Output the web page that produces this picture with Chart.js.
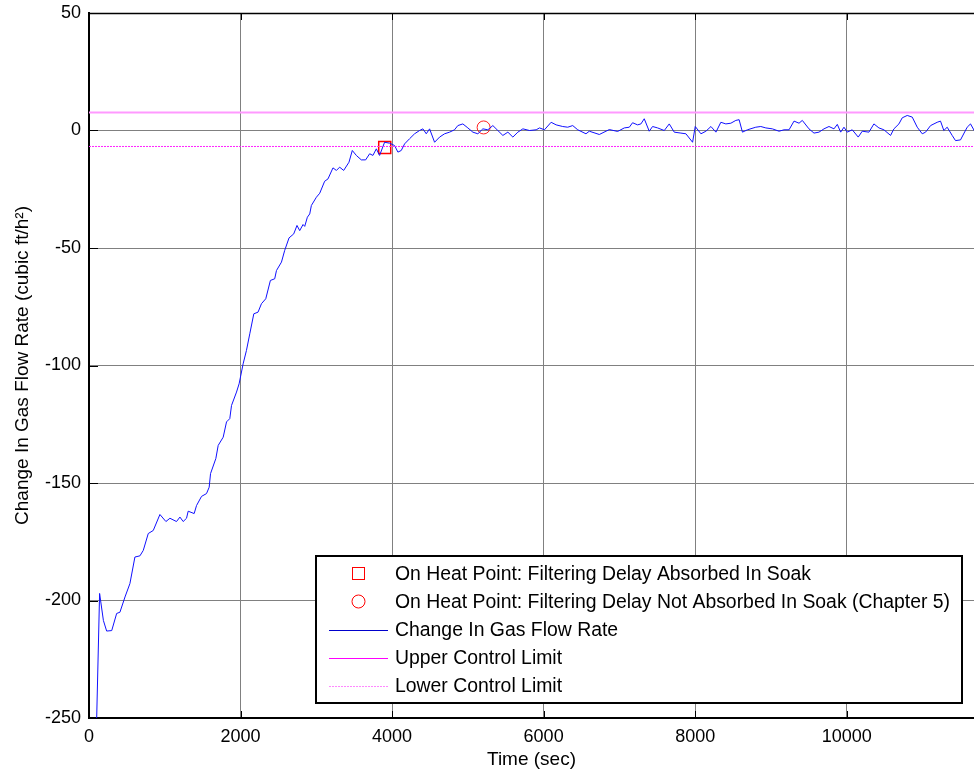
<!DOCTYPE html>
<html>
  <head>
    <title>Change In Gas Flow Rate</title>
    <script src="https://cdn.jsdelivr.net/npm/chart.js@4/dist/chart.umd.min.js"></script>
    <style>
      html, body { margin: 0; padding: 0; background: #fff; overflow: hidden; }
      canvas { display: block; }
    </style>
  </head>
  <body>
    <!-- a bit wider than the window: Chart.js keeps ~10px right padding, the axes run off the edge like the reference -->
    <canvas id="canvas" width="984" height="774"></canvas>
    <script>
      // values
      var timeSec = [100, 140, 190, 233, 300, 365, 408, 475, 540, 606, 672, 716, 782, 848, 936, 1015, 1068, 1155, 1200, 1243,
        1287, 1309, 1388, 1419, 1485, 1551, 1586, 1604, 1674, 1705, 1771, 1815, 1858, 1881, 1947, 1981, 2034, 2078, 2122, 2175,
        2231, 2276, 2333, 2394, 2451, 2474, 2540, 2583, 2640, 2702, 2745, 2781, 2825, 2847, 2882, 2913, 2935, 3001, 3045, 3110,
        3154, 3220, 3265, 3308, 3361, 3431, 3475, 3528, 3594, 3651, 3704, 3747, 3792, 3835, 3901, 3967, 4033, 4077, 4121, 4165,
        4231, 4297, 4363, 4407, 4451, 4495, 4561, 4627, 4693, 4759, 4824, 4868, 4934, 5000, 5066, 5132, 5198, 5264, 5330, 5396,
        5462, 5528, 5594, 5660, 5726, 5814, 5902, 5946, 6011, 6099, 6165, 6252, 6318, 6384, 6450, 6559, 6603, 6735, 6867, 6977,
        7065, 7131, 7174, 7240, 7284, 7328, 7394, 7438, 7504, 7592, 7658, 7724, 7812, 7878, 7966, 8001, 8076, 8142, 8208, 8274,
        8339, 8405, 8471, 8537, 8580, 8624, 8690, 8800, 8866, 8932, 9019, 9107, 9173, 9239, 9305, 9371, 9414, 9502, 9568, 9634,
        9700, 9766, 9832, 9876, 9920, 9964, 10007, 10073, 10152, 10205, 10293, 10359, 10425, 10491, 10579, 10623, 10689, 10733, 10799, 10865,
        10931, 10997, 11041, 11107, 11194, 11238, 11282, 11326, 11392, 11436, 11502, 11590, 11634, 11700];
      var gasFlowChange = [-252, -197, -208.5, -213, -212.8, -205.5, -205, -198.5, -192.8, -181.5, -181, -178.7, -171.5, -170.2, -163.4, -166.4, -165, -166.4, -164.5, -166.4,
        -165, -162, -163, -159.6, -155.7, -154.5, -151.8, -146, -139.6, -134, -130.5, -124, -122.6, -117, -111.3, -107.8, -99.3, -93.6, -86.5, -78,
        -77.3, -73.7, -71.6, -63.8, -63.1, -59.6, -56, -51, -45.7, -44, -40.4, -42.6, -40, -40.8, -36.9, -35.5, -31.9, -28.4, -26.7, -21.6,
        -20.6, -15.9, -17, -15.6, -17, -13.5, -8.5, -10.6, -12.5, -12.5, -9.9, -10.6, -7.8, -10.6, -5, -5.4, -6.4, -9.2, -8.5, -5.7,
        -3.5, -1.4, 0, 0.7, -1.4, 0.7, -5, -2.8, -1.4, -0.7, 0.3, 2.1, 2.8, 1.1, -0.7, -1.4, 0.7, 0.3, 2.1, 0,
        -2.1, -0.7, -2.8, -0.7, 0.7, 0, 0.3, 1.1, 0.3, 3.5, 2.4, 1.7, 1.4, 2.1, 0.3, -1.4, -0.3, -1.7, 0.4, -0.4,
        1.1, 1.4, 3.3, 2.4, 2.8, 5, -0.3, 1.7, 1.1, 0, 2.8, -0.7, -1.1, -1.4, -5, 1.7, -1.4, -0.3, 1.7, -0.7,
        3.5, 2.8, 3.1, 4.3, 4.6, -0.7, 0.3, 1.4, 1.7, 1.1, 0.7, -0.3, 0.3, 0.3, 4, 3.1, 4.3, 0.7, -1.1, -0.7,
        0.7, 1.7, 0.7, 2.6, -0.7, 1.4, -0.7, 0.3, -2.8, -0.3, -0.7, 2.8, 1.1, 0.3, -2.1, 0.7, 2.8, 5.4, 6.4, 5.7,
        1.4, -1.4, -0.7, 2.1, 3.5, 4, 0, 1.4, -2.1, -4.3, -4, 1.4, 2.8, -1];
      var absorbedPoint = [3903, -7.2];
      var notAbsorbedPoint = [5208, 1.3];
      var upperLimit = 7.7;
      var lowerLimit = -6.8;
      var xRange = [0, 11680];
      var yRange = [-250, 50];
      var xTicks = [0, 2000, 4000, 6000, 8000, 10000];
      var yTicks = [-250, -200, -150, -100, -50, 0, 50];
      var legendLabels = [
        "On Heat Point: Filtering Delay Absorbed In Soak",
        "On Heat Point: Filtering Delay Not Absorbed In Soak (Chapter 5)",
        "Change In Gas Flow Rate",
        "Upper Control Limit",
        "Lower Control Limit"
      ];

      var FONT = "'Liberation Sans', Arial, sans-serif";

      var flowPoints = timeSec.map(function(t, i) { return { x: t, y: gasFlowChange[i] }; });

      // MATLAB style frame: top edge and inward ticks
      var framePlugin = {
        id: 'frame',
        afterDatasetsDraw: function(chart) {
          var ctx = chart.ctx, a = chart.chartArea;
          var xs = chart.scales.x, ys = chart.scales.y;
          ctx.save();
          ctx.strokeStyle = '#000';
          ctx.lineWidth = 1.5;
          ctx.beginPath();
          ctx.moveTo(a.left, a.top + 0.5);
          ctx.lineTo(a.right, a.top + 0.5);
          ctx.stroke();
          ctx.lineWidth = 1;
          ctx.beginPath();
          xTicks.forEach(function(v) {
            var px = Math.round(xs.getPixelForValue(v)) + 0.5;
            ctx.moveTo(px, a.bottom); ctx.lineTo(px, a.bottom - 7);
            ctx.moveTo(px, a.top); ctx.lineTo(px, a.top + 7);
          });
          yTicks.forEach(function(v) {
            var py = Math.round(ys.getPixelForValue(v)) + 0.5;
            ctx.moveTo(a.left, py); ctx.lineTo(a.left + 9, py);
          });
          ctx.stroke();
          ctx.restore();
        }
      };

      // boxed legend inside the axes
      var boxLegendPlugin = {
        id: 'boxLegend',
        afterDraw: function(chart) {
          var ctx = chart.ctx;
          var box = { x: 316, y: 556, w: 646, h: 147 };
          var rowY = [574, 602, 630, 658, 686];
          ctx.save();
          ctx.fillStyle = '#fff';
          ctx.fillRect(box.x, box.y, box.w, box.h);
          ctx.strokeStyle = '#000';
          ctx.lineWidth = 2;
          ctx.strokeRect(box.x, box.y, box.w, box.h);

          ctx.strokeStyle = '#ff0000';
          ctx.lineWidth = 1;
          ctx.strokeRect(352.5, rowY[0] - 6.5, 12, 12);
          ctx.beginPath();
          ctx.arc(358.5, rowY[1] - 0.5, 6.5, 0, Math.PI * 2);
          ctx.stroke();

          ctx.strokeStyle = '#0000cc';
          ctx.beginPath(); ctx.moveTo(329, rowY[2] + 0.5); ctx.lineTo(388, rowY[2] + 0.5); ctx.stroke();
          ctx.strokeStyle = '#ff00ff';
          ctx.beginPath(); ctx.moveTo(329, rowY[3] + 0.5); ctx.lineTo(388, rowY[3] + 0.5); ctx.stroke();
          ctx.strokeStyle = '#ff88ff';
          ctx.setLineDash([2, 1]);
          ctx.beginPath(); ctx.moveTo(329, rowY[4] + 0.5); ctx.lineTo(388, rowY[4] + 0.5); ctx.stroke();
          ctx.setLineDash([]);

          ctx.fillStyle = '#000';
          ctx.font = '19.4px ' + FONT;
          ctx.textBaseline = 'middle';
          legendLabels.forEach(function(txt, i) {
            ctx.fillText(txt, 395, rowY[i] + 1);
          });
          ctx.restore();
        }
      };

      var config = {
        type: 'line',
        data: {
          datasets: [{
            label: 'Upper Control Limit',
            data: [{ x: xRange[0], y: upperLimit }, { x: xRange[1], y: upperLimit }],
            borderColor: '#ff99ff',
            borderWidth: 2,
            pointRadius: 0
          }, {
            label: 'Lower Control Limit',
            data: [{ x: xRange[0], y: lowerLimit }, { x: xRange[1], y: lowerLimit }],
            borderColor: '#ff22ff',
            borderWidth: 1,
            borderDash: [2, 1],
            pointRadius: 0
          }, {
            label: 'Change In Gas Flow Rate',
            data: flowPoints,
            borderColor: '#1010ff',
            borderWidth: 1,
            pointRadius: 0,
            tension: 0
          }, {
            label: 'Absorbed',
            data: [{ x: absorbedPoint[0], y: absorbedPoint[1] }],
            showLine: false,
            pointStyle: 'rect',
            pointRadius: 8.5,
            borderColor: '#ff0000',
            borderWidth: 1.5,
            backgroundColor: 'rgba(0,0,0,0)'
          }, {
            label: 'Not absorbed',
            data: [{ x: notAbsorbedPoint[0], y: notAbsorbedPoint[1] }],
            showLine: false,
            pointStyle: 'circle',
            pointRadius: 6.5,
            borderColor: '#ff2020',
            borderWidth: 1,
            backgroundColor: 'rgba(0,0,0,0)'
          }]
        },
        options: {
          responsive: false,
          animation: false,
          layout: { padding: { top: 13, right: 0, left: 0, bottom: 0 } },
          plugins: {
            legend: { display: false },
            tooltip: { enabled: false }
          },
          scales: {
            x: {
              type: 'linear',
              min: xRange[0],
              max: xRange[1],
              afterBuildTicks: function(scale) { scale.ticks = xTicks.map(function(v) { return { value: v }; }); },
              afterFit: function(scale) { scale.height = 56; },
              grid: { color: '#808080', lineWidth: 1, drawTicks: false },
              border: { color: '#000', width: 2 },
              ticks: { color: '#000', padding: 8, font: { family: FONT, size: 18 }, callback: function(v) { return String(v); } },
              title: { display: true, text: 'Time (sec)', color: '#000', padding: { top: 0, bottom: 3 }, font: { family: FONT, size: 19 } }
            },
            y: {
              min: yRange[0],
              max: yRange[1],
              afterBuildTicks: function(scale) { scale.ticks = yTicks.map(function(v) { return { value: v }; }); },
              afterFit: function(scale) { scale.width = 89; scale.paddingTop = 0; scale.paddingBottom = 0; },
              grid: { color: '#808080', lineWidth: 1, drawTicks: false },
              border: { color: '#000', width: 2 },
              ticks: { color: '#000', padding: 8, font: { family: FONT, size: 18 }, callback: function(v) { return String(v); } },
              title: { display: true, text: 'Change In Gas Flow Rate (cubic ft/h\u00b2)', color: '#000', padding: { top: 11, bottom: 0 }, font: { family: FONT, size: 19 } }
            }
          }
        },
        plugins: [framePlugin, boxLegendPlugin]
      };

      var ctx = document.getElementById('canvas').getContext('2d');
      window.gasChart = new Chart(ctx, config);
    </script>
  </body>
</html>
